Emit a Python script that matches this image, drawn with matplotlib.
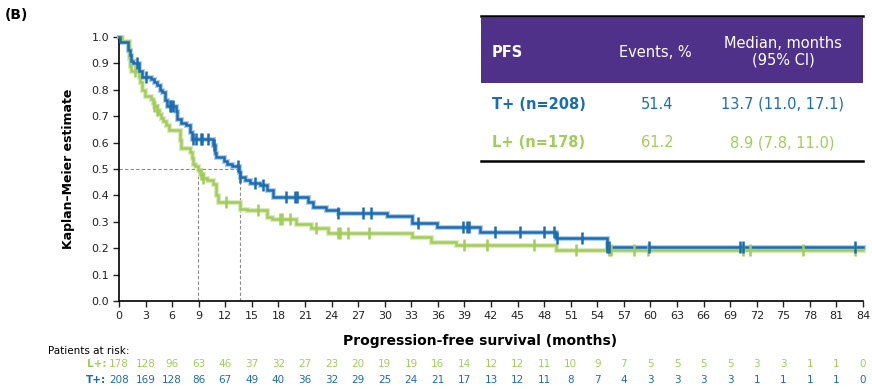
import matplotlib
matplotlib.use("Agg")
import matplotlib.pyplot as plt
import numpy as np
from matplotlib.patches import Rectangle
from matplotlib.lines import Line2D
import matplotlib.transforms as mtransforms

plt.rcParams['font.family'] = ['DejaVu Sans']

# Kaplan-Meier steps (time in months, survival after the step)
t_plus_times = [0, 0.1, 1.05, 1.2, 1.4, 1.6, 2.2, 2.6, 3.6, 3.9, 4.3, 4.6, 4.9, 5.2, 5.4,
                6.4, 6.6, 7.0, 7.6, 8.0, 8.2, 10.6, 10.8, 11.0, 11.8, 12.2, 12.7, 13.5,
                13.7, 14.2, 14.8, 15.9, 16.7, 17.4, 21.3, 21.9, 23.4, 24.7, 30.2, 33.1,
                35.9, 40.8, 49.3, 55.1, 84]
t_plus_surv = [1.0, 0.98, 0.95, 0.93, 0.91, 0.90, 0.87, 0.85, 0.84, 0.83, 0.82, 0.80, 0.79,
               0.76, 0.74, 0.72, 0.69, 0.675, 0.665, 0.64, 0.615, 0.59, 0.56, 0.545, 0.53,
               0.52, 0.51, 0.49, 0.47, 0.458, 0.448, 0.438, 0.42, 0.395, 0.376, 0.356,
               0.345, 0.335, 0.322, 0.294, 0.279, 0.263, 0.240, 0.203, 0.203]
t_plus_censor = [2.0, 3.0, 5.7, 5.9, 6.1, 8.4, 8.7, 9.2, 9.4, 10.0, 10.7, 13.4, 13.7, 15.3,
                 16.3, 18.9, 19.9, 20.1, 24.7, 27.5, 28.4, 33.7, 38.8, 39.3, 39.5, 42.4,
                 45.3, 48.0, 49.1, 49.4, 52.3, 55.1, 55.3, 59.8, 70.1, 70.4, 83.1]

l_plus_times = [0, 0.3, 1.1, 1.2, 1.4, 2.2, 2.4, 2.6, 2.9, 3.6, 3.8, 4.0, 4.3, 4.5, 4.7,
                5.0, 5.3, 5.6, 6.9, 7.0, 8.0, 8.2, 8.4, 8.6, 8.9, 9.1, 9.5, 9.9, 10.6,
                10.9, 11.0, 11.2, 13.65, 14.5, 16.7, 17.3, 20.0, 21.7, 23.6, 33.1, 35.2,
                38.0, 49.3, 84]
l_plus_surv = [1.0, 0.985, 0.92, 0.89, 0.87, 0.85, 0.83, 0.80, 0.775, 0.765, 0.75, 0.74,
               0.725, 0.71, 0.695, 0.68, 0.665, 0.647, 0.61, 0.58, 0.565, 0.54, 0.52, 0.51,
               0.496, 0.48, 0.465, 0.458, 0.445, 0.43, 0.40, 0.375, 0.35, 0.345, 0.32,
               0.31, 0.29, 0.275, 0.259, 0.241, 0.225, 0.212, 0.193, 0.193]
l_plus_censor = [1.8, 4.0, 4.3, 9.2, 9.5, 12.1, 15.7, 18.2, 18.4, 19.3, 22.2, 24.7, 24.9,
                 25.8, 28.2, 38.9, 41.5, 46.8, 51.6, 55.3, 55.6, 58.1, 59.7, 70.4, 71.2,
                 77.2, 83.1]

t_plus_median = 13.7
l_plus_median = 8.9

risk_months = list(range(0, 85, 3))
risk_l_plus = [178, 128, 96, 63, 46, 37, 32, 27, 23, 20, 19, 19, 16, 14, 12, 12, 11, 10,
               9, 7, 5, 5, 5, 5, 3, 3, 1, 1, 0]
risk_t_plus = [208, 169, 128, 86, 67, 49, 40, 36, 32, 29, 25, 24, 21, 17, 13, 12, 11, 8,
               7, 4, 3, 3, 3, 3, 1, 1, 1, 1, 0]

table_header = ['PFS', 'Events, %', 'Median, months\n(95% CI)']
table_rows = [['T+ (n=208)', '51.4', '13.7 (11.0, 17.1)'],
              ['L+ (n=178)', '61.2', '8.9 (7.8, 11.0)']]

BLUE = '#1b6db2'
BLUE_HALO = '#9fc4e6'
GREEN = '#a3cd58'
GREEN_HALO = '#d3e8b0'
PURPLE = '#4f3189'

fig = plt.figure(figsize=(8.72, 3.89), dpi=100)
ax = fig.add_axes([0.1365, 0.2262, 0.8532, 0.6787])


def km_curve(times, surv, censor, color, halo):
    ax.step(times, surv, where='post', color=halo, lw=3.6, alpha=0.8,
            solid_joinstyle='miter', clip_on=False, zorder=2)
    ax.step(times, surv, where='post', color=color, lw=1.8,
            solid_joinstyle='miter', clip_on=False, zorder=3)
    idx = np.searchsorted(times, censor, side='right') - 1
    cy = np.array(surv)[idx]
    ax.plot(censor, cy, ls='none', marker='|', ms=9, mew=1.8, color=color,
            clip_on=False, zorder=4)


# median reference lines
dash = dict(color='#8a8a8a', lw=0.8, ls=(0, (3, 2)), zorder=1)
ax.plot([0, t_plus_median], [0.5, 0.5], **dash)
ax.plot([l_plus_median, l_plus_median], [0, 0.5], **dash)
ax.plot([t_plus_median, t_plus_median], [0, 0.5], **dash)

km_curve(l_plus_times, l_plus_surv, l_plus_censor, GREEN, GREEN_HALO)
km_curve(t_plus_times, t_plus_surv, t_plus_censor, BLUE, BLUE_HALO)

ax.set_xlim(0, 84)
ax.set_ylim(0, 1.0)
ax.set_xticks(risk_months)
ax.set_yticks(np.arange(0, 1.01, 0.1))
ax.set_yticklabels([f'{v:.1f}' for v in np.arange(0, 1.01, 0.1)])
ax.tick_params(labelsize=8, length=4, width=1, colors='#222222', pad=3)
for s in ['top', 'right']:
    ax.spines[s].set_visible(False)
for s in ['left', 'bottom']:
    ax.spines[s].set_linewidth(1.2)

fig.text(0.078, 0.565, 'Kaplan\u2013Meier estimate', rotation=90, fontsize=9,
         fontweight='bold', ha='center', va='center')
fig.text(0.5505, 0.1234, 'Progression-free survival (months)', fontsize=10,
         fontweight='bold', ha='center', va='center')
fig.text(0.006, 0.962, '(B)', fontsize=10, fontweight='bold', ha='left', va='center')

# patients at risk
fig.text(0.055, 0.0977, 'Patients at risk:', fontsize=7.5, ha='left', va='center')
trans = mtransforms.blended_transform_factory(ax.transData, fig.transFigure)
for y, label, counts, color in [(0.0643, 'L+:', risk_l_plus, GREEN),
                                (0.0231, 'T+:', risk_t_plus, BLUE)]:
    fig.text(0.1216, y, label, fontsize=7.5, fontweight='bold', color=color,
             ha='right', va='center')
    for m, n in zip(risk_months, counts):
        ax.text(m, y, str(n), transform=trans, fontsize=7.5, color=color,
                ha='center', va='center', clip_on=False)

# summary table
x0, x1 = 0.5516, 0.9897
fig.add_artist(Rectangle((x0, 0.7866), x1 - x0, 0.9537 - 0.7866,
                         transform=fig.transFigure, facecolor=PURPLE, edgecolor='none'))
fig.add_artist(Line2D([x0, x1], [0.9589, 0.9589], transform=fig.transFigure,
                      color='black', lw=1.8))
fig.add_artist(Line2D([x0, x1], [0.5874, 0.5874], transform=fig.transFigure,
                      color='black', lw=1.8))
hy = 0.8663
fig.text(0.5642, hy, table_header[0], color='white', fontsize=10.5, fontweight='bold',
         ha='left', va='center')
fig.text(0.7511, hy, table_header[1], color='white', fontsize=10.5, ha='center', va='center')
fig.text(0.898, hy, table_header[2], color='white', fontsize=10.5, ha='center', va='center',
         linespacing=1.1)
for y, row, color in [(0.7326, table_rows[0], BLUE), (0.6324, table_rows[1], GREEN)]:
    fig.text(0.5642, y, row[0], color=color, fontsize=10.5, fontweight='bold',
             ha='left', va='center')
    fig.text(0.7535, y, row[1], color=color, fontsize=10.5, ha='center', va='center')
    fig.text(0.897, y, row[2], color=color, fontsize=10.5, ha='center', va='center')

fig.savefig('out.png', dpi=100)
